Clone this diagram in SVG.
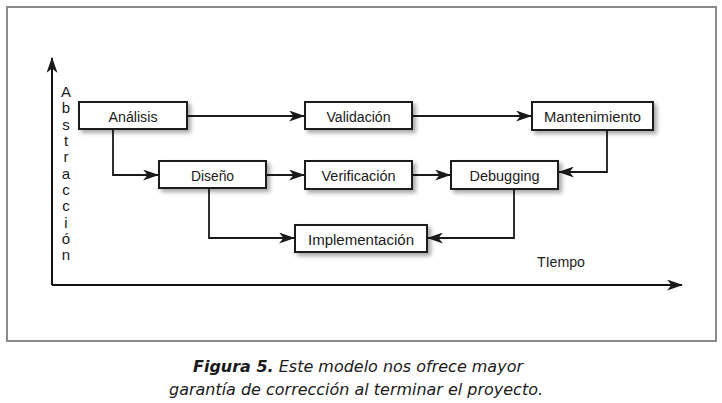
<svg xmlns="http://www.w3.org/2000/svg" width="722" height="403" viewBox="0 0 722 403">
<style>
.box{fill:#fff;stroke:#1a1a1a;stroke-width:2}
.lbl{font-family:"Liberation Sans",Arial,sans-serif;font-size:15.5px;fill:#1a1a1a;text-anchor:middle}
.con{fill:none;stroke:#1a1a1a;stroke-width:1.8}
.ax{fill:none;stroke:#111;stroke-width:2}
.cap{font-family:"DejaVu Sans",Verdana,sans-serif;font-size:15px;font-style:italic;fill:#1a1a1a;text-anchor:middle}
</style>
<defs>
<marker id="ah" viewBox="0 0 16 11" refX="15" refY="5.5" markerWidth="16" markerHeight="11" markerUnits="userSpaceOnUse" orient="auto">
<path d="M0,0 L16,5.5 L0,11 L4.5,5.5 z" fill="#1a1a1a"/>
</marker>
<filter id="sh" x="-20%" y="-30%" width="150%" height="180%">
<feGaussianBlur in="SourceAlpha" stdDeviation="2"/>
<feOffset dx="3" dy="3" result="b"/>
<feComponentTransfer><feFuncA type="linear" slope="0.35"/></feComponentTransfer>
<feMerge><feMergeNode/><feMergeNode in="SourceGraphic"/></feMerge>
</filter>
</defs>
<rect x="0" y="0" width="722" height="403" fill="#fff"/>
<rect x="7" y="7" width="709" height="334" fill="#fff" stroke="#8a8a8a" stroke-width="2"/>
<g id="axes">
<path class="ax" d="M52,285 V58" marker-end="url(#ah)"/>
<path class="ax" d="M52,285 H682" marker-end="url(#ah)"/>
<g font-family="Liberation Sans,Arial,sans-serif" font-size="15" fill="#1a1a1a" text-anchor="middle">
<text x="66" y="97">A</text>
<text x="66" y="113">b</text>
<text x="66" y="130">s</text>
<text x="66" y="146">t</text>
<text x="66" y="162">r</text>
<text x="66" y="179">a</text>
<text x="66" y="195">c</text>
<text x="66" y="211">c</text>
<text x="66" y="228">i</text>
<text x="66" y="244">ó</text>
<text x="66" y="260">n</text>
</g>
<text x="561" y="267" font-family="Liberation Sans,Arial,sans-serif" font-size="15.5" fill="#1a1a1a" text-anchor="middle" textLength="48" lengthAdjust="spacingAndGlyphs">TIempo</text>
</g>
<g id="connectors">
<path class="con" d="M187,116 H304" marker-end="url(#ah)"/>
<path class="con" d="M412,116 H531" marker-end="url(#ah)"/>
<path class="con" d="M113,129 V175 H158" marker-end="url(#ah)"/>
<path class="con" d="M266,175 H304" marker-end="url(#ah)"/>
<path class="con" d="M412,175 H450" marker-end="url(#ah)"/>
<path class="con" d="M607,130 V172 H559" marker-end="url(#ah)"/>
<path class="con" d="M209,188 V238 H294" marker-end="url(#ah)"/>
<path class="con" d="M514,189 V238 H428" marker-end="url(#ah)"/>
</g>
<g id="analisis"><rect class="box" filter="url(#sh)" x="79" y="102" width="108" height="27"/><text class="lbl" x="133" y="121.5" textLength="49" lengthAdjust="spacingAndGlyphs">Análisis</text></g>
<g id="validacion"><rect class="box" filter="url(#sh)" x="305" y="102" width="107" height="27"/><text class="lbl" x="358.5" y="121.5" textLength="64" lengthAdjust="spacingAndGlyphs">Validación</text></g>
<g id="mantenimiento"><rect class="box" filter="url(#sh)" x="532" y="102" width="121" height="28"/><text class="lbl" x="592.5" y="121.5" textLength="97" lengthAdjust="spacingAndGlyphs">Mantenimiento</text></g>
<g id="diseno"><rect class="box" filter="url(#sh)" x="159" y="161" width="107" height="27"/><text class="lbl" x="212.5" y="180.5" textLength="43" lengthAdjust="spacingAndGlyphs">Diseño</text></g>
<g id="verificacion"><rect class="box" filter="url(#sh)" x="305" y="161" width="107" height="28"/><text class="lbl" x="358.5" y="180.5" textLength="74" lengthAdjust="spacingAndGlyphs">Verificación</text></g>
<g id="debugging"><rect class="box" filter="url(#sh)" x="451" y="161" width="107" height="28"/><text class="lbl" x="504.5" y="180.5" textLength="70" lengthAdjust="spacingAndGlyphs">Debugging</text></g>
<g id="implementacion"><rect class="box" filter="url(#sh)" x="295" y="225" width="132" height="27"/><text class="lbl" x="361" y="244.5" textLength="106" lengthAdjust="spacingAndGlyphs">Implementación</text></g>
<g id="caption">
<text class="cap" x="358" y="372" textLength="330" lengthAdjust="spacingAndGlyphs"><tspan font-weight="bold">Figura 5.</tspan> Este modelo nos ofrece mayor</text>
<text class="cap" x="356" y="395" textLength="374" lengthAdjust="spacingAndGlyphs">garantía de corrección al terminar el proyecto.</text>
</g>
</svg>
